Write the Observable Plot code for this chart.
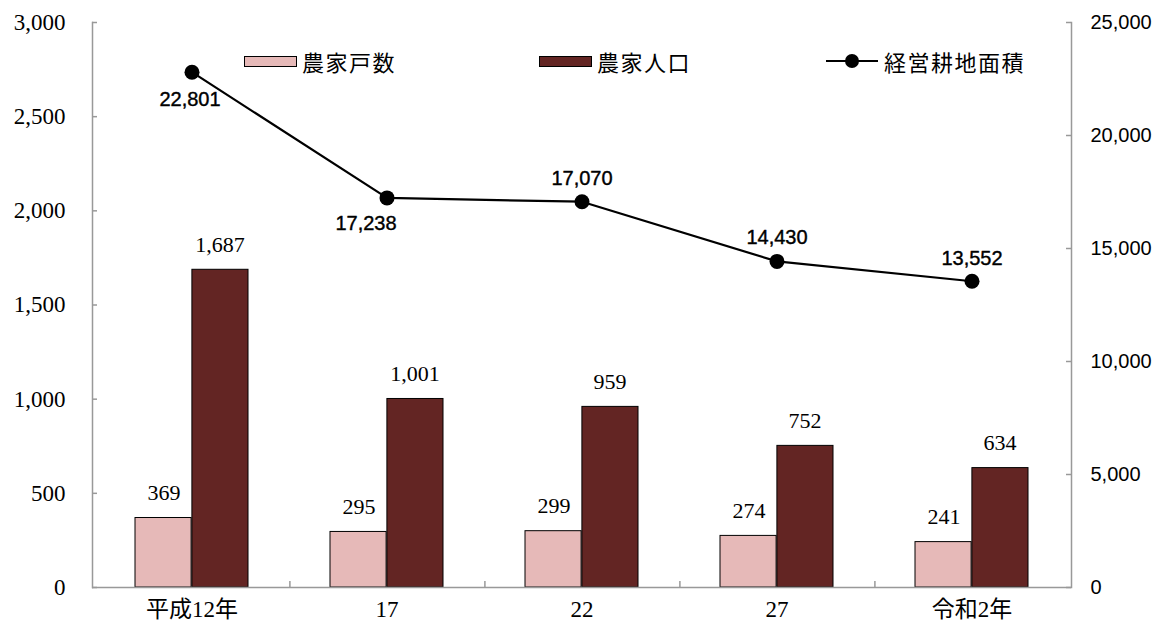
<!DOCTYPE html>
<html><head><meta charset="utf-8">
<script src="https://cdn.jsdelivr.net/npm/d3@7"></script>
<script src="https://cdn.jsdelivr.net/npm/@observablehq/plot@0.6"></script>
<style>
body{margin:0;background:#fff}
#wrap{position:relative;width:1164px;height:630px;overflow:hidden}
#wrap svg{position:absolute;left:0;top:0}
.leg{position:absolute;top:49px;height:24px;font-family:"Noto Sans CJK JP",sans-serif;font-size:22px;letter-spacing:1.5px;color:#000;line-height:24px;display:flex;align-items:center;white-space:nowrap}
.sw{display:inline-block;width:51px;height:9px;border:1.5px solid #000;margin-right:5px}
.ln{position:relative;display:inline-block;width:52px;height:24px;margin-right:6px}
.ln:before{content:"";position:absolute;left:0;right:0;top:11px;height:2.2px;background:#000}
.ln:after{content:"";position:absolute;left:19px;top:5px;width:14px;height:14px;border-radius:50%;background:#000}
</style></head><body><div id="wrap"></div>
<script>
// ---- data ----
const categories = ["平成12年", "17", "22", "27", "令和2年"];
const households = [369, 295, 299, 274, 241];          // 農家戸数 (left axis)
const population = [1687, 1001, 959, 752, 634];        // 農家人口 (left axis)
const farmArea = [22801, 17238, 17070, 14430, 13552];  // 経営耕地面積 (right axis)
const leftTicks = [0, 500, 1000, 1500, 2000, 2500, 3000];
const rightTicks = [0, 5000, 10000, 15000, 20000, 25000];
const seriesNames = ["農家戸数", "農家人口", "経営耕地面積"];

// ---- layout / style ----
const W = 1164, H = 630, mL = 92, mR = 93, mT = 22, mB = 43;
const leftMax = 3000, rightMax = 25000, k = leftMax / rightMax;
const serif = '"Liberation Serif","Noto Sans CJK JP",serif';
const sans = '"Liberation Sans",Arial,sans-serif';
const axisColor = "#999";
const fmt = d3.format(",");
const innerW = W - mL - mR, innerH = H - mT - mB;
const bw = innerW / categories.length;

const rows = categories.map((c, i) => ({cat: c, i, hh: households[i], pop: population[i], area: farmArea[i]}));
// placement of the line's value labels (style offsets per point)
const areaLabelOffsets = [[-2, 27], [-21, 26], [0, -23], [0, -24], [0, -23]];

const areaLabelMarks = rows.map((r, i) =>
  Plot.text([r], {x: "cat", y: d => d.area * k, text: d => fmt(d.area),
    dx: areaLabelOffsets[i][0], dy: areaLabelOffsets[i][1], fontFamily: sans, fontSize: 20, fill: "#000",
    stroke: "#000", strokeWidth: 0.4}));

const chart = Plot.plot({
  width: W, height: H, marginLeft: mL, marginRight: mR, marginTop: mT, marginBottom: mB,
  style: {fontFamily: sans, background: "white"},
  x: {domain: categories, type: "band", padding: 0, axis: null},
  y: {domain: [0, leftMax], axis: null},
  marks: [
    Plot.barY(rows, {x: "cat", y: "hh", fill: "#E6B9B8", stroke: "#000", strokeWidth: 1, insetLeft: 41, insetRight: bw / 2}),
    Plot.barY(rows, {x: "cat", y: "pop", fill: "#632523", stroke: "#000", strokeWidth: 1, insetLeft: bw / 2, insetRight: 41}),
    // axis lines
    Plot.ruleY([0], {stroke: axisColor, strokeWidth: 1.5}),
    Plot.frame({anchor: "left", stroke: axisColor, strokeWidth: 1.5}),
    Plot.frame({anchor: "right", stroke: axisColor, strokeWidth: 1.5}),
    // ticks
    Plot.ruleY(leftTicks, {y: d => d, stroke: axisColor, strokeWidth: 1.5, insetRight: innerW - 5}),
    Plot.ruleY(rightTicks, {y: d => d * k, stroke: axisColor, strokeWidth: 1.5, insetLeft: innerW - 5}),
    Plot.ruleX(categories.slice(0, -1), {x: d => d, dx: bw / 2, stroke: axisColor, strokeWidth: 1.5, insetTop: innerH - 6}),
    // tick labels
    Plot.text(leftTicks, {y: d => d, frameAnchor: "left", dx: -27, textAnchor: "end", text: d => fmt(d), fontFamily: serif, fontSize: 23, fill: "#000"}),
    Plot.text(rightTicks, {y: d => d * k, frameAnchor: "right", dx: 19, textAnchor: "start", text: d => fmt(d), fontFamily: sans, fontSize: 20, fill: "#000"}),
    Plot.text(categories, {x: d => d, frameAnchor: "bottom", dy: 29, text: d => d, fontFamily: serif, fontSize: 23, fill: "#000"}),
    // bar value labels
    Plot.text(rows, {x: "cat", y: "hh", text: d => fmt(d.hh), dx: -28, dy: -25, fontFamily: serif, fontSize: 22, fill: "#000"}),
    Plot.text(rows, {x: "cat", y: "pop", text: d => fmt(d.pop), dx: 28, dy: -25, fontFamily: serif, fontSize: 22, fill: "#000"}),
    // line
    Plot.line(rows, {x: "cat", y: d => d.area * k, stroke: "#000", strokeWidth: 2.2}),
    Plot.dot(rows, {x: "cat", y: d => d.area * k, r: 7.5, fill: "#000", stroke: "none"}),
    ...areaLabelMarks
  ]
});
const wrap = document.getElementById("wrap");
wrap.appendChild(chart);

// legend (inside plot area)
const legendLeft = [244, 539, 826];
const legendKinds = ["#E6B9B8", "#632523", "line"];
seriesNames.forEach((name, i) => {
  const item = document.createElement("div");
  item.className = "leg";
  item.style.left = legendLeft[i] + "px";
  const mark = document.createElement("span");
  if (legendKinds[i] === "line") mark.className = "ln";
  else { mark.className = "sw"; mark.style.background = legendKinds[i]; }
  item.appendChild(mark);
  const t = document.createElement("span");
  t.textContent = name;
  item.appendChild(t);
  wrap.appendChild(item);
});
</script>
</body></html>
